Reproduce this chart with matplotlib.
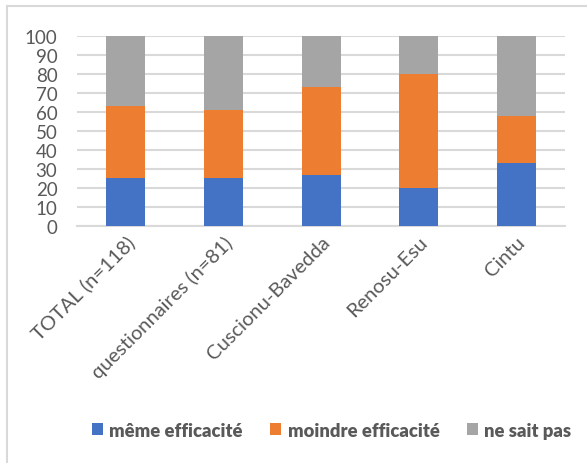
import matplotlib
matplotlib.use("Agg")
import matplotlib.pyplot as plt
import numpy as np

categories = ["TOTAL (n=118)", "questionnaires (n=81)", "Cuscionu-Bavedda", "Renosu-Esu", "Cintu"]
meme = [25, 25, 27, 20, 33]
moindre = [38, 36, 46, 60, 25]
ne_sait = [37, 39, 27, 20, 42]
series = ["même efficacité", "moindre efficacité", "ne sait pas"]
colors = ["#4472c4", "#ed7d31", "#a5a5a5"]

plt.rcParams["font.family"] = ["Lato", "DejaVu Sans"]
txt = "#595959"

fig = plt.figure(figsize=(5.87, 4.64), dpi=100)
ax = fig.add_axes([0.131, 0.511, 0.832, 0.409])

x = np.arange(len(categories))
bottom = np.zeros(len(categories))
for vals, lab, col in zip([meme, moindre, ne_sait], series, colors):
    ax.bar(x, vals, 0.4, bottom=bottom, color=col, label=lab, zorder=3)
    bottom += np.array(vals)

ax.set_xlim(-0.5, len(categories) - 0.5)
ax.set_ylim(0, 100)
ax.set_yticks(range(0, 101, 10))
ax.yaxis.grid(True, color="#d9d9d9", lw=1.5, zorder=0)
for s in ["left", "right", "top"]:
    ax.spines[s].set_visible(False)
ax.spines["bottom"].set_color("#d9d9d9")
ax.spines["bottom"].set_linewidth(1.5)
ax.tick_params(length=0, colors=txt)
ax.tick_params(axis="y", pad=14, labelsize=13.5)
ax.tick_params(axis="x", pad=5, labelsize=14.5)
ax.set_xticks(x)
ax.set_xticklabels(categories, rotation=45, ha="right", va="top", rotation_mode="anchor")

leg = fig.legend(loc="center", bbox_to_anchor=(0.565, 0.071), ncol=3, frameon=False,
                 handlelength=0.6, handleheight=0.6, handletextpad=0.35, columnspacing=1.5,
                 prop={"weight": "heavy", "size": 13.2})
for t in leg.get_texts():
    t.set_color(txt)

# frame around the chart (left and top edges)
fig.add_artist(plt.Line2D([7 / 587, 7 / 587], [0, 1 - 7 / 464], color="#d9d9d9", lw=1.5))
fig.add_artist(plt.Line2D([7 / 587, 1], [1 - 7 / 464, 1 - 7 / 464], color="#d9d9d9", lw=1.5))

fig.savefig("out.png", dpi=100)
